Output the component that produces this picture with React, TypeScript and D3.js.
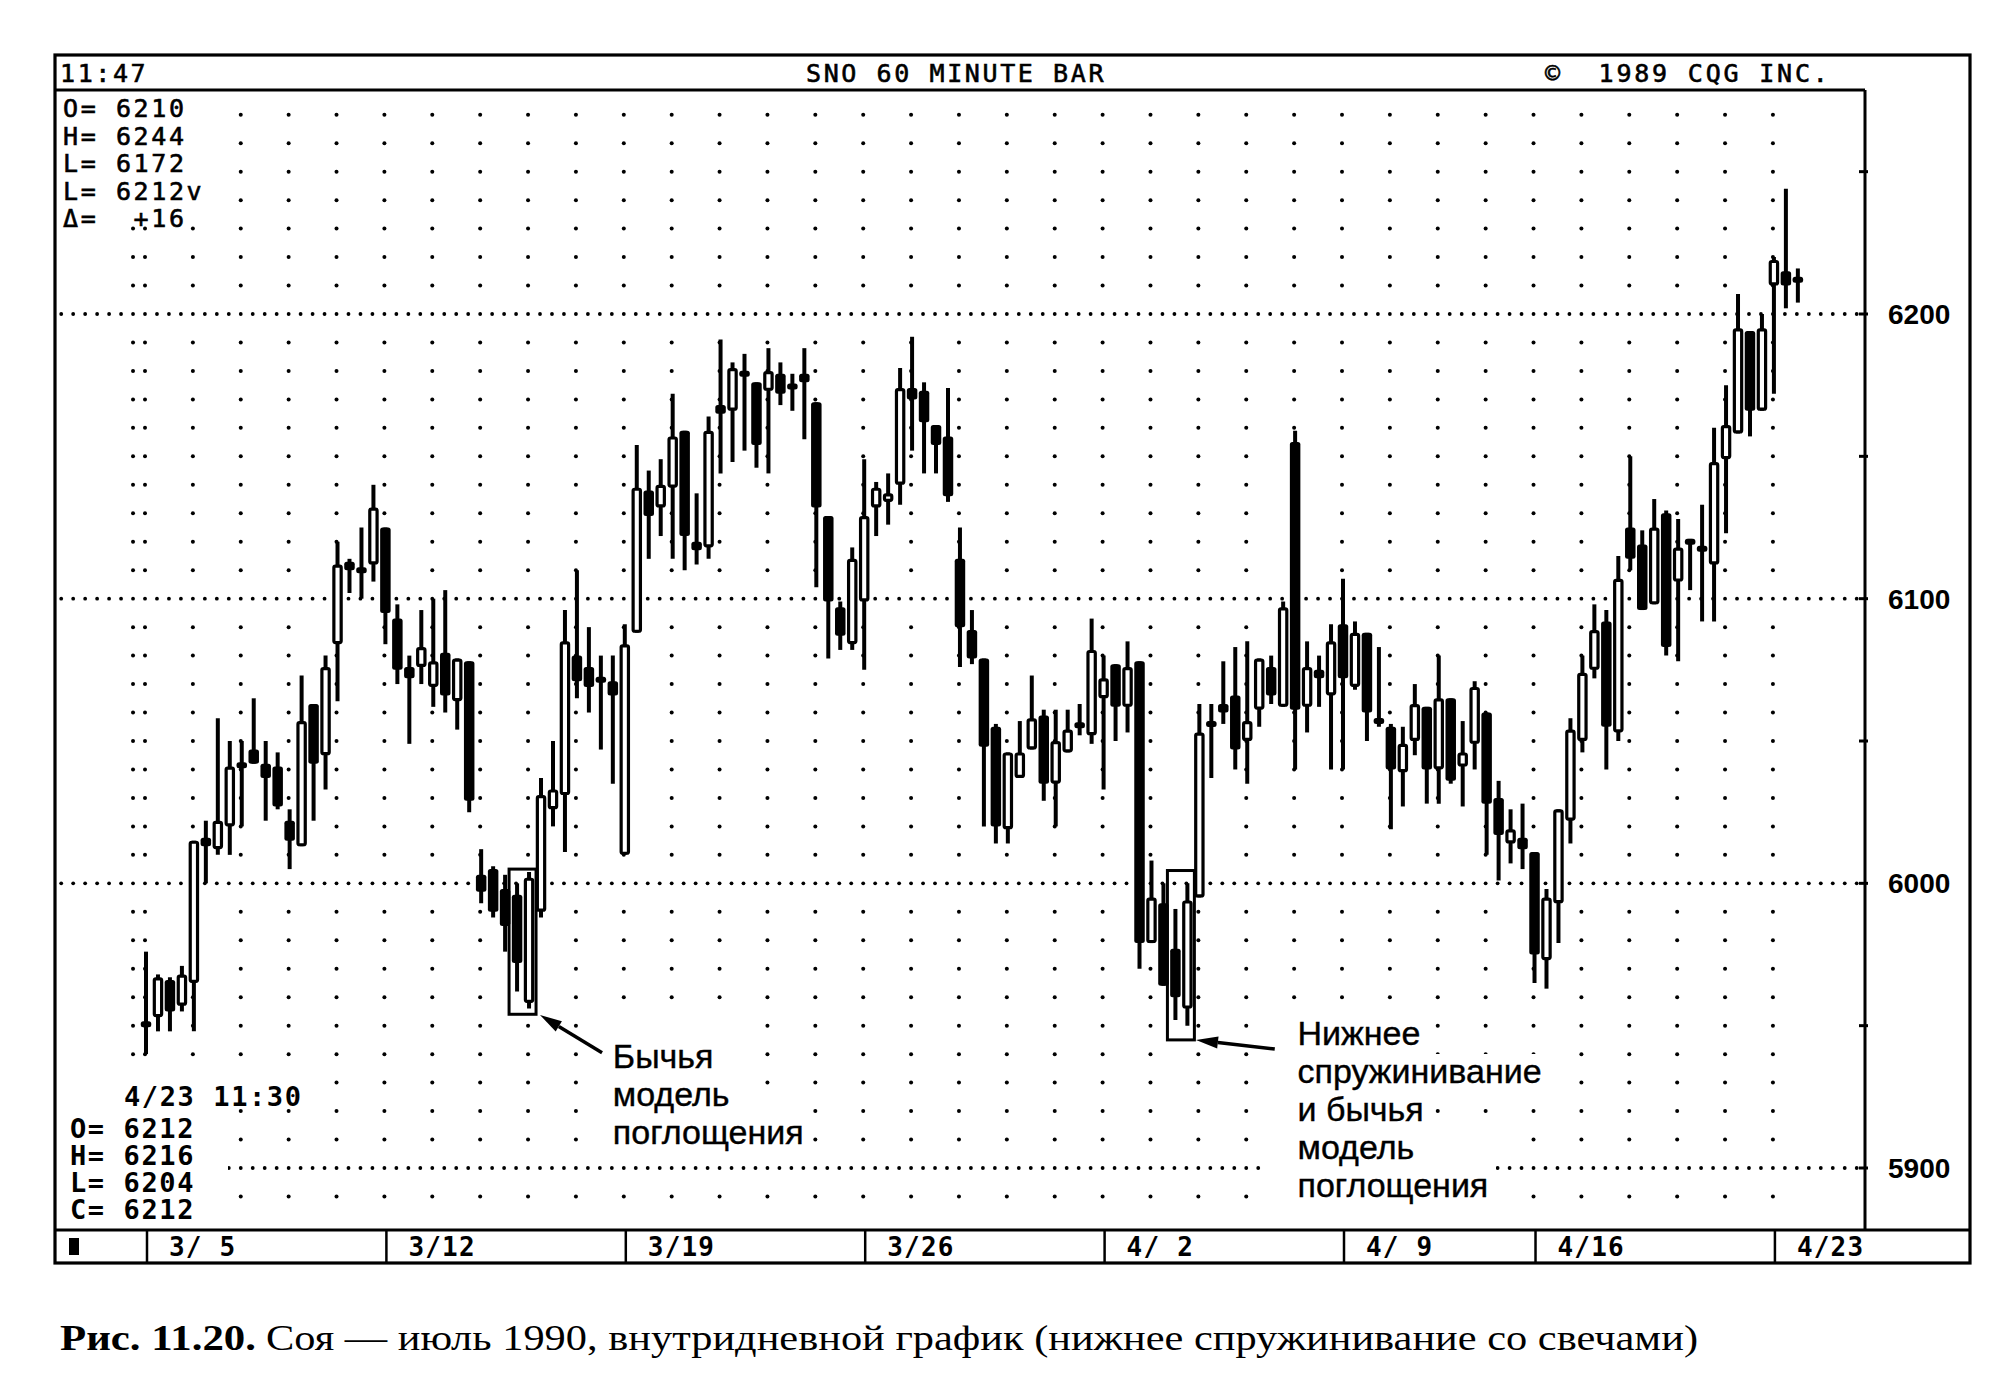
import React from "react";
import * as d3 from "d3";

// ---------------- DATA (hourly bars, soybeans July 1990) ----------------
const opens = [
  5951, 5953, 5966, 5957, 5965, 6016, 6012, 6020, 6042, 6047,
  6042, 6041, 6022, 6013, 6063, 6045, 6084, 6113, 6111, 6112,
  6125, 6093, 6076, 6076, 6069, 6081, 6064, 6078, 6003, 6005,
  5998, 5996, 5958, 5990, 6026, 6031, 6080, 6076, 6072, 6071,
  6010, 6088, 6138, 6132, 6139, 6159, 6120, 6118, 6168, 6166,
  6180, 6176, 6173, 6179, 6175, 6179, 6169, 6129, 6097, 6084,
  6099, 6132, 6134, 6140, 6174, 6173, 6161, 6157, 6114, 6089,
  6079, 6055, 6019, 6037, 6047, 6059, 6035, 6046, 6056, 6052,
  6065, 6077, 6062, 6078, 5979, 5993, 5977, 5956, 5995, 6057,
  6063, 6066, 6050, 6061, 6076, 6062, 6155, 6062, 6075, 6066,
  6091, 6069, 6088, 6058, 6055, 6039, 6050, 6062, 6040, 6065,
  6041, 6049, 6060, 6030, 6014, 6016, 6011, 5973, 5993, 6022,
  6050, 6075, 6092, 6053, 6125, 6119, 6098, 6130, 6106, 6120,
  6118, 6112, 6149, 6158, 6194, 6166, 6210, 6215, 6212,
];
const highs = [
  5976, 5968, 5967, 5971, 6015, 6022, 6058, 6050, 6050, 6065,
  6050, 6046, 6026, 6073, 6063, 6080, 6120, 6114, 6125, 6140,
  6125, 6098, 6080, 6096, 6100, 6103, 6079, 6078, 6012, 6006,
  6003, 6000, 6004, 6037, 6050, 6096, 6110, 6090, 6080, 6080,
  6091, 6154, 6145, 6149, 6172, 6159, 6137, 6164, 6191, 6183,
  6186, 6176, 6188, 6183, 6179, 6188, 6169, 6129, 6099, 6118,
  6149, 6141, 6144, 6181, 6192, 6176, 6161, 6174, 6125, 6096,
  6079, 6056, 6046, 6057, 6073, 6061, 6061, 6061, 6063, 6093,
  6080, 6077, 6085, 6078, 6008, 6000, 5991, 6000, 6063, 6063,
  6078, 6083, 6085, 6079, 6080, 6099, 6159, 6085, 6080, 6091,
  6107, 6092, 6088, 6083, 6056, 6055, 6070, 6062, 6080, 6065,
  6057, 6071, 6060, 6036, 6026, 6028, 6011, 5998, 6026, 6058,
  6080, 6098, 6096, 6115, 6150, 6124, 6135, 6131, 6128, 6121,
  6133, 6160, 6175, 6207, 6194, 6200, 6220, 6244, 6216,
];
const lows = [
  5940, 5948, 5948, 5955, 5948, 6000, 6010, 6010, 6020, 6042,
  6022, 6026, 6005, 6013, 6022, 6033, 6064, 6102, 6100, 6106,
  6084, 6070, 6049, 6070, 6062, 6060, 6054, 6025, 5993, 5988,
  5976, 5962, 5956, 5988, 6020, 6011, 6065, 6060, 6047, 6035,
  6010, 6088, 6114, 6122, 6114, 6110, 6112, 6114, 6144, 6148,
  6152, 6146, 6144, 6168, 6166, 6156, 6104, 6079, 6082, 6082,
  6075, 6122, 6126, 6133, 6152, 6144, 6144, 6134, 6076, 6077,
  6020, 6014, 6014, 6037, 6047, 6029, 6020, 6046, 6052, 6049,
  6033, 6050, 6053, 5970, 5979, 5964, 5952, 5950, 5995, 6037,
  6056, 6040, 6035, 6055, 6063, 6062, 6040, 6053, 6062, 6040,
  6040, 6068, 6050, 6055, 6019, 6027, 6045, 6028, 6028, 6035,
  6027, 6040, 6010, 6001, 6007, 6005, 5965, 5963, 5979, 6014,
  6046, 6072, 6040, 6050, 6110, 6096, 6098, 6080, 6078, 6103,
  6092, 6092, 6123, 6158, 6157, 6166, 6172, 6202, 6204,
];
const closes = [
  5950, 5967, 5955, 5968, 6015, 6013, 6022, 6041, 6041, 6042,
  6037, 6027, 6015, 6057, 6042, 6076, 6112, 6110, 6109, 6132,
  6095, 6075, 6072, 6083, 6078, 6066, 6079, 6029, 5997, 5990,
  5985, 5972, 6002, 6031, 6033, 6085, 6071, 6069, 6071, 6066,
  6084, 6139, 6129, 6140, 6157, 6122, 6117, 6159, 6165, 6181,
  6178, 6154, 6180, 6172, 6174, 6176, 6132, 6099, 6087, 6114,
  6129, 6139, 6137, 6174, 6170, 6162, 6154, 6136, 6090, 6079,
  6048, 6020, 6046, 6046, 6058, 6035, 6050, 6054, 6055, 6082,
  6072, 6062, 6076, 5979, 5995, 5964, 5960, 5994, 6053, 6055,
  6060, 6047, 6057, 6079, 6066, 6097, 6061, 6076, 6072, 6085,
  6072, 6088, 6060, 6056, 6040, 6049, 6063, 6040, 6065, 6036,
  6046, 6069, 6028, 6017, 6019, 6012, 5975, 5995, 6026, 6054,
  6074, 6089, 6055, 6107, 6114, 6096, 6125, 6083, 6118, 6120,
  6117, 6148, 6161, 6195, 6166, 6195, 6219, 6210, 6212,
];

const weekLabels = ["3/\u00A05", "3/12", "3/19", "3/26", "4/\u00A02", "4/\u00A09", "4/16", "4/23"];
const weekStartBars = [0, 20, 40, 60, 80, 100, 116, 136];
const priceLabels = [6200, 6100, 6000, 5900];
const barsPerDay = 4;

const headerLeft = "11:47";
const headerTitle = "SNO 60 MINUTE BAR";
const headerRight = "©\u00A0\u00A01989 CQG INC.";
const topInfo = ["O= 6210", "H= 6244", "L= 6172", "L= 6212v", "Δ=\u00A0\u00A0+16"];
const bottomInfoTitle = "4/23 11:30";
const bottomInfo = ["O= 6212", "H= 6216", "L= 6204", "C= 6212"];

const patternBoxes = [
  { from: 31, to: 32, hi: 6005, lo: 5954 },
  { from: 86, to: 87, hi: 6004.5, lo: 5945 },
];
const annotation1Lines = ["Бычья", "модель", "поглощения"];
const annotation2Lines = ["Нижнее", "спружинивание", "и бычья", "модель", "поглощения"];
const captionBold = "Рис. 11.20.";
const captionText = "Соя — июль 1990, внутридневной график (нижнее спружинивание со свечами)";

// ---------------- LAYOUT ----------------
const W = 2010;
const H = 1383;
const FL = 55, FR = 1970, FT = 55, FB = 1263;
const HEADER_Y = 90;
const PLOT_RIGHT = 1865;
const STRIP_TOP = 1230;
const CRT = "'DejaVu Sans Mono', 'Liberation Mono', monospace";
const SANS = "'Liberation Sans', Arial, sans-serif";
const SERIF = "'Liberation Serif', 'Times New Roman', serif";

const x = d3.scaleLinear().domain([0, 138]).range([146, 146 + 11.97 * 138]);
const y = d3.scaleLinear().domain([5900, 6200]).range([1168, 314]);

const minorRows = d3.range(5890, 6271, 10).filter((p) => p % 100 !== 0);
const dayCols = [-1, ...d3.range(0, opens.length, barsPerDay)];
const majorDotIdx = d3.range(-7, 144).filter((k) => x(k) - 1 > 60 && x(k) - 1 < PLOT_RIGHT - 3);
const rightTicks = d3.range(5900, 6251, 50);

const annotations = [
  { lines: annotation1Lines, bar: 39, price: 5935.1, tip: [540, 1015], end: { bar: 38.1, price: 5940.5 } },
  { lines: annotation2Lines, bar: 96.2, price: 5943.2, tip: [1196, 1040], end: { bar: 94.3, price: 5941.8 } },
];

const blanks: [number, number, number, number][] = [
  [57, 92, 171, 130],
  [57, 1075, 255, 30],
  [57, 1105, 171, 120],
  [600, 1016, 125, 58],
  [600, 1074, 125, 36],
  [600, 1106, 205, 45],
  [1262, 1013, 165, 41],
  [1262, 1054, 292, 38],
  [1262, 1092, 170, 39],
  [1262, 1131, 234, 39],
  [1262, 1170, 234, 36],
];

function Arrow({ tip, end }: { tip: number[]; end: number[] }) {
  const [x1, y1] = tip;
  const [x2, y2] = end;
  const dx = x2 - x1, dy = y2 - y1;
  const len = Math.hypot(dx, dy);
  const ux = dx / len, uy = dy / len;
  const L = 22, Wd = 6;
  const bx = x1 + ux * L, by = y1 + uy * L;
  const pts = `${x1},${y1} ${bx - uy * Wd},${by + ux * Wd} ${bx + uy * Wd},${by - ux * Wd}`;
  return (
    <g>
      <line x1={bx} y1={by} x2={x2} y2={y2} stroke="#000" strokeWidth={3.5} />
      <polygon points={pts} fill="#000" />
    </g>
  );
}

export default function App() {
  const bw = 10.5;
  return (
    <svg
      width={W}
      height={H}
      viewBox={`0 0 ${W} ${H}`}
      style={{ position: "absolute", left: 0, top: 0, background: "#fff" }}
    >
      <rect x={0} y={0} width={W} height={H} fill="#fff" />

      {/* minor grid dots */}
      <g fill="#000">
        {minorRows.map((p) =>
          dayCols.map((k) => <circle key={`m${p}_${k}`} cx={x(k) - 1} cy={y(p)} r={2} />)
        )}
        {priceLabels.map((p) =>
          majorDotIdx.map((k) => <circle key={`M${p}_${k}`} cx={x(k) - 1} cy={y(p)} r={1.9} />)
        )}
      </g>

      {/* cleared text cells */}
      <g fill="#fff">
        {blanks.map((b, i) => (
          <rect key={`b${i}`} x={b[0]} y={b[1]} width={b[2]} height={b[3]} />
        ))}
      </g>

      {/* pattern boxes */}
      <g fill="none" stroke="#000" strokeWidth={3}>
        {patternBoxes.map((b, i) => (
          <rect
            key={`pb${i}`}
            x={x(b.from) - 8}
            y={y(b.hi)}
            width={x(b.to) - x(b.from) + 15}
            height={y(b.lo) - y(b.hi)}
          />
        ))}
      </g>

      {/* candles */}
      <g>
        {opens.map((o, i) => {
          const c = closes[i];
          const cx = x(i);
          const up = c > o;
          const top = y(Math.max(o, c));
          const bot = y(Math.min(o, c));
          const hgt = Math.max(bot - top, 6);
          const yt = bot - top < 6 ? (top + bot) / 2 - hgt / 2 : top;
          return (
            <g key={`c${i}`}>
              <line x1={cx} x2={cx} y1={y(highs[i])} y2={y(lows[i])} stroke="#000" strokeWidth={4} />
              {up && hgt > 8 ? (
                <rect
                  x={cx - bw / 2 + 1.6}
                  y={yt + 1.6}
                  width={bw - 3.2}
                  height={hgt - 3.2}
                  fill="#fff"
                  stroke="#000"
                  strokeWidth={3.2}
                  rx={1.5}
                />
              ) : (
                <rect x={cx - bw / 2} y={yt} width={bw} height={hgt} fill="#000" rx={2.5} />
              )}
            </g>
          );
        })}
      </g>

      {/* annotations */}
      {annotations.map((a, ai) => {
        const tx = x(a.bar);
        const ty = y(a.price);
        return (
          <g key={`a${ai}`}>
            <Arrow tip={a.tip} end={[x(a.end.bar), y(a.end.price)]} />
            {a.lines.map((ln, li) => (
              <text
                key={`al${ai}_${li}`}
                x={tx}
                y={ty + li * 38}
                fontFamily={SANS}
                fontSize={34}
                fill="#000"
                stroke="#000"
                strokeWidth={0.4}
              >
                {ln}
              </text>
            ))}
          </g>
        );
      })}

      {/* frame */}
      <g stroke="#000" fill="none">
        <rect x={FL} y={FT} width={FR - FL} height={FB - FT} strokeWidth={3.2} />
        <line x1={FL} x2={PLOT_RIGHT} y1={HEADER_Y} y2={HEADER_Y} strokeWidth={3.2} />
        <line x1={PLOT_RIGHT} x2={PLOT_RIGHT} y1={HEADER_Y} y2={STRIP_TOP} strokeWidth={3} />
        <line x1={FL} x2={FR} y1={STRIP_TOP} y2={STRIP_TOP} strokeWidth={3} />
        {weekStartBars.map((b) => (
          <line key={`s${b}`} x1={x(b) + 1} x2={x(b) + 1} y1={STRIP_TOP} y2={FB} strokeWidth={2.5} />
        ))}
        {rightTicks.map((p) => (
          <line key={`rt${p}`} x1={PLOT_RIGHT - 6} x2={PLOT_RIGHT + 3} y1={y(p)} y2={y(p)} strokeWidth={3} />
        ))}
      </g>
      <rect x={69} y={1238} width={10} height={17} fill="#000" />

      {/* header */}
      <g fontFamily={CRT} fontSize={25} fill="#000" stroke="#000" strokeWidth={0.6}>
        <text x={60} y={82} letterSpacing={2.6}>{headerLeft}</text>
        <text x={806} y={82} letterSpacing={2.6}>{headerTitle}</text>
        <text x={1545} y={82} letterSpacing={2.8}>{headerRight}</text>
        {topInfo.map((t, i) => (
          <text key={`ti${i}`} x={63} y={117 + i * 27.5} letterSpacing={2.6}>{t}</text>
        ))}
      </g>

      {/* bottom-left info */}
      <g fontFamily={CRT} fontSize={27} fontWeight="bold" fill="#000">
        <text x={124} y={1106} letterSpacing={1.6}>{bottomInfoTitle}</text>
        {bottomInfo.map((t, i) => (
          <text key={`bi${i}`} x={70} y={1138 + i * 27} letterSpacing={1.6}>{t}</text>
        ))}
      </g>

      {/* right price labels */}
      <g fontFamily={SANS} fontSize={28} fontWeight="bold" fill="#000">
        {priceLabels.map((p) => (
          <text key={`pl${p}`} x={1888} y={y(p) + 10}>{p}</text>
        ))}
      </g>

      {/* date strip labels */}
      <g fontFamily={CRT} fontSize={26} fontWeight="bold" fill="#000">
        {weekLabels.map((l, i) => (
          <text key={`wl${i}`} x={x(weekStartBars[i]) + 23} y={1256} letterSpacing={1.2}>{l}</text>
        ))}
      </g>

      {/* caption */}
      <text x={60} y={1350} fontFamily={SERIF} fontSize={36} fontWeight="bold" textLength={196} lengthAdjust="spacingAndGlyphs">
        {captionBold}
      </text>
      <text x={266} y={1350} fontFamily={SERIF} fontSize={36} textLength={1432} lengthAdjust="spacingAndGlyphs">
        {captionText}
      </text>
    </svg>
  );
}
